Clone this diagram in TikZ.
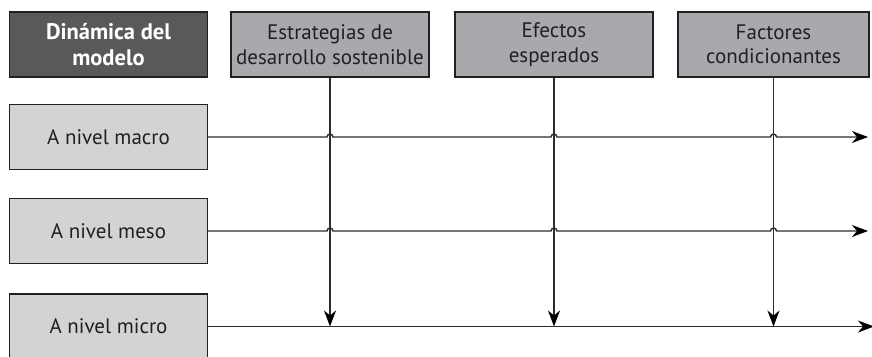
\documentclass[tikz,border=0pt]{standalone}
\usepackage{fontspec}
\setmainfont{PT Sans}
\usetikzlibrary{calc,arrows.meta}
\definecolor{bord}{HTML}{231F20}
\definecolor{darkfill}{HTML}{58595B}
\definecolor{headfill}{HTML}{A7A9AC}
\definecolor{lvlfill}{HTML}{D1D3D4}
\definecolor{linec}{HTML}{2E2B2C}
\tikzset{
  box/.style={draw=bord,line width=1.2pt,minimum width=198pt,minimum height=65pt,
    align=center,inner sep=0pt,font=\fontsize{21}{24.5}\selectfont},
  darkbox/.style={box,fill=darkfill,text=white,font=\fontsize{22.5}{26}\selectfont\bfseries},
  headbox/.style={box,fill=headfill,text=bord},
  lvlbox/.style={box,fill=lvlfill,text=bord},
  conn/.style={draw=linec,line width=1.4pt,-{Stealth[length=16pt,width=12pt,inset=5pt,color=black]}},
}
\begin{document}
\begin{tikzpicture}
\useasboundingbox (0,0) rectangle (872pt,-356pt);
\node[darkbox] (dm) at (108.5pt,-44.5pt) {Dinámica del\\modelo};
\node[headbox] (h1) at (330pt,-44.5pt) {Estrategias de\\desarrollo sostenible};
\node[headbox] (h2) at (554pt,-44.5pt) {Efectos\\esperados};
\node[headbox,minimum width=191pt] (h3) at (773.5pt,-44.5pt) {Factores\\condicionantes};
\node[lvlbox] (l1) at (108.5pt,-137pt) {A nivel macro};
\node[lvlbox] (l2) at (108.5pt,-231pt) {A nivel meso};
\node[lvlbox] (l3) at (108.5pt,-326.5pt) {A nivel micro};
\coordinate (e1) at (868pt,-137pt);
\coordinate (e2) at (868pt,-231pt);
\coordinate (e3) at (874pt,-326.5pt);
% vertical arrows
\foreach \h in {h1,h2,h3}{
  \draw[conn] (\h.south) -- (\h.south |- l3.east);
}
% horizontal arrows with hops
\foreach \l/\e in {l1/e1,l2/e2}{
  \draw[conn] (\l.east)
    -- ($(h1.south |- \l.east)+(-3pt,0)$) arc[start angle=180,end angle=0,radius=3pt]
    -- ($(h2.south |- \l.east)+(-3pt,0)$) arc[start angle=180,end angle=0,radius=3pt]
    -- ($(h3.south |- \l.east)+(-3pt,0)$) arc[start angle=180,end angle=0,radius=3pt]
    -- (\e);
}
\draw[conn] (l3.east) -- (e3);
\end{tikzpicture}
\end{document}
